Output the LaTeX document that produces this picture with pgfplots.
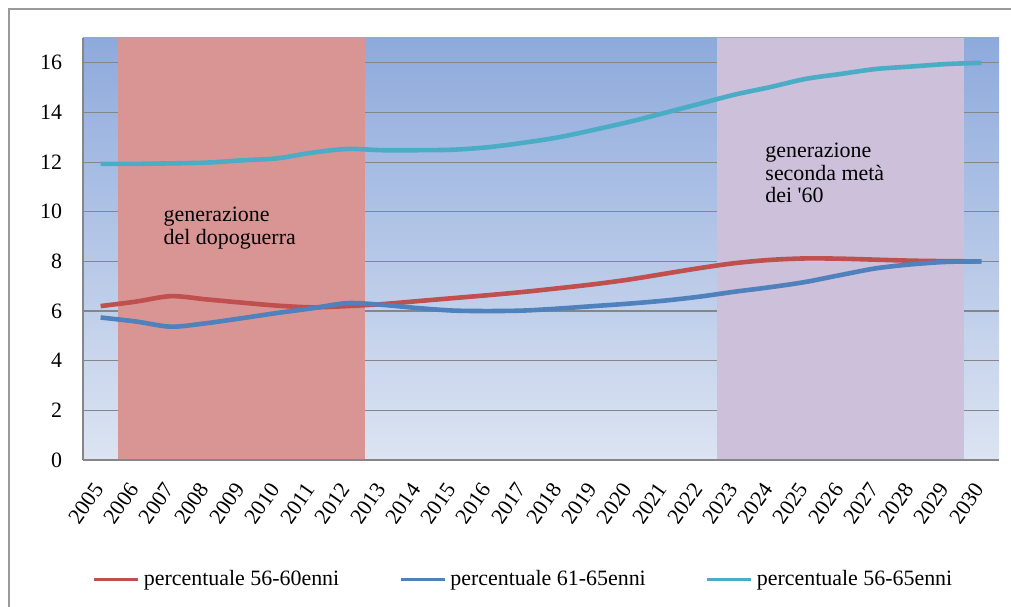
\documentclass[border=0pt]{standalone}
\usepackage{fontspec}
\setmainfont{Liberation Serif}
\usepackage{pgfplots}
\pgfplotsset{compat=1.18}
\definecolor{cred}{HTML}{C0504D}
\definecolor{cblue}{HTML}{4F81BD}
\definecolor{ccyan}{HTML}{4BACC6}
\definecolor{regred}{HTML}{D99594}
\definecolor{regpur}{HTML}{CCC0DA}
\definecolor{bgtop}{HTML}{8EAADC}
\definecolor{bgbot}{HTML}{DCE4F2}
\definecolor{gridc}{HTML}{868686}
\begin{document}
\begin{tikzpicture}
\useasboundingbox (0,0) rectangle (505.5bp,303.5bp);
\draw[gray!80, line width=1bp] (4.5bp,0) -- (4.5bp,299bp) -- (505.5bp,299bp);
\begin{axis}[
  at={(41.5bp,73.5bp)}, anchor=south west,
  scale only axis, width=458bp, height=211bp,
  xmin=2004.5, xmax=2030.5, ymin=0, ymax=17,
  xtick={2005,2006,...,2030}, ytick={0,2,...,16},
  axis x line*=bottom, axis y line*=left,
  axis line style={gridc, line width=0.7bp, -},
  tick style={draw=none},
  ymajorgrids, grid style={gridc, line width=0.6bp},
  axis background/.style={shade, top color=bgtop, bottom color=bgbot},
  /pgf/number format/1000 sep={},
  /pgf/number format/assume math mode=true,
  ticklabel style={font=\fontsize{11}{13}\selectfont},
  xticklabel style={yshift=-10bp, xshift=1bp, rotate=55, anchor=east},
  yticklabel style={xshift=-7bp},
  legend columns=3,
  legend style={draw=none, fill=none, at={(0.482,-0.284)}, anchor=center,
    font=\fontsize{11}{13}\selectfont,
    /tikz/every even column/.append style={column sep=28bp}},
  legend image code/.code={\draw[#1, line width=1.6bp] (0bp,0bp) -- (22bp,0bp);},
]
\fill[regred] (axis cs:2005.5,0) rectangle (axis cs:2012.5,17);
\fill[regpur] (axis cs:2022.5,0) rectangle (axis cs:2029.5,17);
\draw[gridc, line width=0.7bp] (axis cs:2004.5,0) -- (axis cs:2030.5,0);
\addplot[cred, line width=2.3bp, smooth] coordinates {
(2005,6.2) (2006,6.38) (2007,6.6) (2008,6.47) (2009,6.34) (2010,6.22)
(2011,6.15) (2012,6.2) (2013,6.28) (2014,6.4) (2015,6.52) (2016,6.64)
(2017,6.77) (2018,6.92) (2019,7.08) (2020,7.27) (2021,7.5) (2022,7.73)
(2023,7.93) (2024,8.06) (2025,8.12) (2026,8.11) (2027,8.07) (2028,8.03)
(2029,8.01) (2030,8.0)};
\addlegendentry{percentuale 56-60enni}
\addplot[cblue, line width=2.3bp, smooth] coordinates {
(2005,5.74) (2006,5.58) (2007,5.37) (2008,5.51) (2009,5.71) (2010,5.92)
(2011,6.11) (2012,6.32) (2013,6.25) (2014,6.12) (2015,6.02) (2016,6.0)
(2017,6.02) (2018,6.1) (2019,6.2) (2020,6.3) (2021,6.42) (2022,6.58)
(2023,6.78) (2024,6.96) (2025,7.17) (2026,7.45) (2027,7.72) (2028,7.88)
(2029,7.98) (2030,8.0)};
\addlegendentry{percentuale 61-65enni}
\addplot[ccyan, line width=2.3bp, smooth] coordinates {
(2005,11.93) (2006,11.93) (2007,11.95) (2008,11.98) (2009,12.07) (2010,12.15)
(2011,12.38) (2012,12.53) (2013,12.48) (2014,12.48) (2015,12.5) (2016,12.6)
(2017,12.78) (2018,13.0) (2019,13.3) (2020,13.62) (2021,13.98) (2022,14.35)
(2023,14.72) (2024,15.02) (2025,15.35) (2026,15.55) (2027,15.75) (2028,15.85)
(2029,15.95) (2030,16.0)};
\addlegendentry{percentuale 56-65enni}
\node[anchor=north west, align=left, inner sep=0, font=\fontsize{11}{11.5}\selectfont]
  at (axis cs:2006.78,10.2) {generazione\\del dopoguerra};
\node[anchor=north west, align=left, inner sep=0, font=\fontsize{11}{11.5}\selectfont]
  at (axis cs:2023.86,12.8) {generazione\\seconda metà\\dei \textquotesingle 60};
\end{axis}
\end{tikzpicture}
\end{document}
